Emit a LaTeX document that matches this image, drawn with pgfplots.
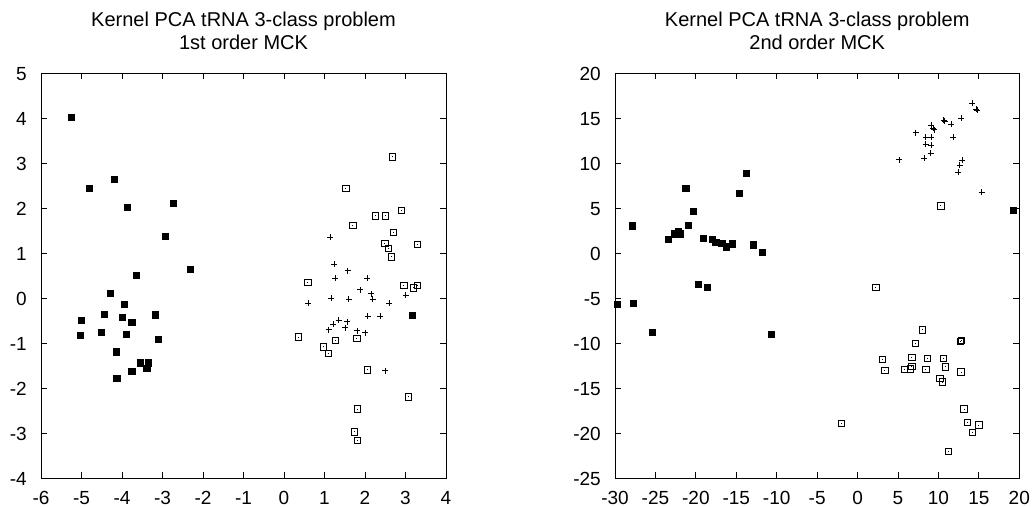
\documentclass[border=0pt]{standalone}
\usepackage{fontspec}
\setmainfont{Liberation Sans}
\usepackage{pgfplots}
\usepackage{pgfplotstable}
\pgfplotsset{compat=1.18}

\pgfdeclareplotmark{sqdot}{%
  \pgfpathrectangle{\pgfqpoint{-\pgfplotmarksize}{-\pgfplotmarksize}}{\pgfqpoint{2\pgfplotmarksize}{2\pgfplotmarksize}}%
  \pgfusepathqstroke
  \pgfpathrectangle{\pgfqpoint{-0.5pt}{-0.5pt}}{\pgfqpoint{1pt}{1pt}}%
  \pgfusepathqfill}

\pgfplotstableread{
x y
-5.25 4.02
-4.81 2.44
-4.19 2.64
-3.87 2.02
-2.73 2.11
-2.93 1.38
-2.31 0.64
-3.65 0.51
-4.29 0.11
-3.94 -0.13
-4.44 -0.36
-3.99 -0.42
-5.00 -0.49
-3.75 -0.53
-3.18 -0.37
-5.03 -0.82
-4.51 -0.76
-3.89 -0.80
-3.10 -0.91
-4.14 -1.19
-3.55 -1.44
-3.35 -1.44
-3.38 -1.56
-3.75 -1.62
-4.12 -1.78
3.17 -0.38
}\LA

\pgfplotstableread{
x y
2.68 3.14
1.53 2.44
2.89 1.95
2.25 1.83
2.50 1.83
1.70 1.61
2.70 1.47
2.49 1.21
2.57 1.11
3.29 1.20
2.65 0.92
0.59 0.36
2.96 0.29
3.19 0.23
3.30 0.29
0.35 -0.86
1.28 -0.94
1.80 -0.89
0.97 -1.08
1.09 -1.22
2.06 -1.59
3.07 -2.19
1.81 -2.46
1.74 -2.97
1.82 -3.16
}\LB

\pgfplotstableread{
x y
1.14 1.36
1.24 0.76
1.57 0.61
1.26 0.45
2.06 0.45
1.88 0.19
2.15 0.10
3.00 0.07
1.16 0.01
1.60 -0.02
2.19 -0.02
0.60 -0.11
2.60 -0.11
2.07 -0.39
2.37 -0.39
1.35 -0.48
1.22 -0.58
1.56 -0.52
1.51 -0.65
1.10 -0.70
1.80 -0.72
2.00 -0.76
2.50 -1.61
}\LC

\pgfplotstableread{
x y
-27.86 3.03
-23.40 1.56
-22.66 2.14
-22.12 2.44
-21.96 2.14
-21.30 7.18
-21.13 7.22
-20.93 3.11
-20.31 4.67
-19.07 1.67
-17.96 1.51
-17.50 1.22
-16.76 1.11
-16.22 0.70
-15.48 1.03
-14.62 6.67
-13.75 8.84
-12.88 0.92
-11.77 0.11
-19.69 -3.44
-18.58 -3.78
-29.71 -5.67
-27.74 -5.56
-25.38 -8.78
-10.66 -9.00
19.29 4.78
}\RA

\pgfplotstableread{
x y
10.31 5.26
2.26 -3.82
8.00 -8.52
7.13 -10.04
12.86 -9.71
12.70 -9.82
3.08 -11.78
6.72 -11.56
8.61 -11.71
10.59 -11.67
3.38 -13.04
5.80 -12.93
6.51 -12.86
6.72 -12.56
8.45 -12.93
10.84 -12.63
12.79 -13.19
10.18 -13.93
10.47 -14.30
13.16 -17.30
13.56 -18.78
15.01 -19.08
14.22 -19.93
-1.99 -18.89
11.25 -22.00
}\RB

\pgfplotstableread{
x y
14.18 16.67
14.64 16.00
14.76 15.89
12.82 15.00
10.63 14.81
10.76 14.67
11.58 14.33
9.07 14.26
9.32 13.92
9.48 13.74
7.17 13.40
8.41 12.92
9.11 12.92
11.83 12.89
8.41 12.14
9.07 12.00
9.03 11.11
8.20 10.59
5.11 10.41
12.90 10.37
12.62 9.78
12.41 9.00
15.33 6.81
}\RC

\pgfplotsset{
  myaxis/.style={
    scale only axis,
    height=405pt,
    anchor=south west,
    clip=false,
    axis line style={line width=0.9pt, black},
    tick style={line width=0.9pt, black},
    tick align=inside,
    major tick length=6pt,
    /pgf/number format/assume math mode=true,
    every tick label/.append style={font=\fontsize{19}{22}\selectfont},
    xticklabel style={anchor=base, inner sep=0pt, yshift=-25.7pt},
    yticklabel style={anchor=base east, inner sep=0pt, xshift=-14pt, yshift=-6.8pt},
  },
  classA/.style={only marks, mark=square*, mark size=3.15pt, mark options={fill=black, draw=black, line width=0pt}},
  classB/.style={only marks, mark=sqdot, mark size=3.1pt, mark options={draw=black, fill=black, line width=0.9pt}},
  classC/.style={only marks, mark=+, mark size=3pt, mark options={draw=black, line width=0.7pt}},
}

\begin{document}
\begin{tikzpicture}[x=1pt,y=1pt]
\begin{axis}[myaxis, at={(41pt,27.7pt)}, width=405pt,
  xmin=-6, xmax=4, ymin=-4, ymax=5,
  xtick={-6,-5,...,4}, ytick={-4,-3,...,5}]
\addplot[classA] table[x=x,y=y] {\LA};
\addplot[classB] table[x=x,y=y] {\LB};
\addplot[classC] table[x=x,y=y] {\LC};
\end{axis}
\begin{axis}[myaxis, at={(615pt,27.7pt)}, width=404.3pt,
  xmin=-30, xmax=20, ymin=-25, ymax=20,
  xtick={-30,-25,...,20}, ytick={-25,-20,...,20}]
\addplot[classA] table[x=x,y=y] {\RA};
\addplot[classB] table[x=x,y=y] {\RB};
\addplot[classC] table[x=x,y=y] {\RC};
\end{axis}
\begin{scope}[font=\fontsize{20}{24}\selectfont]
\node[anchor=base, inner sep=0pt] at (243.5,479.3) {Kernel PCA tRNA 3-class problem};
\node[anchor=base, inner sep=0pt] at (243.5,456.7) {1st order MCK};
\node[anchor=base, inner sep=0pt] at (817.2,479.3) {Kernel PCA tRNA 3-class problem};
\node[anchor=base, inner sep=0pt] at (817.2,456.7) {2nd order MCK};
\end{scope}
\pgfresetboundingbox
\path[use as bounding box] (0,0) rectangle (1032,506);
\end{tikzpicture}
\end{document}
